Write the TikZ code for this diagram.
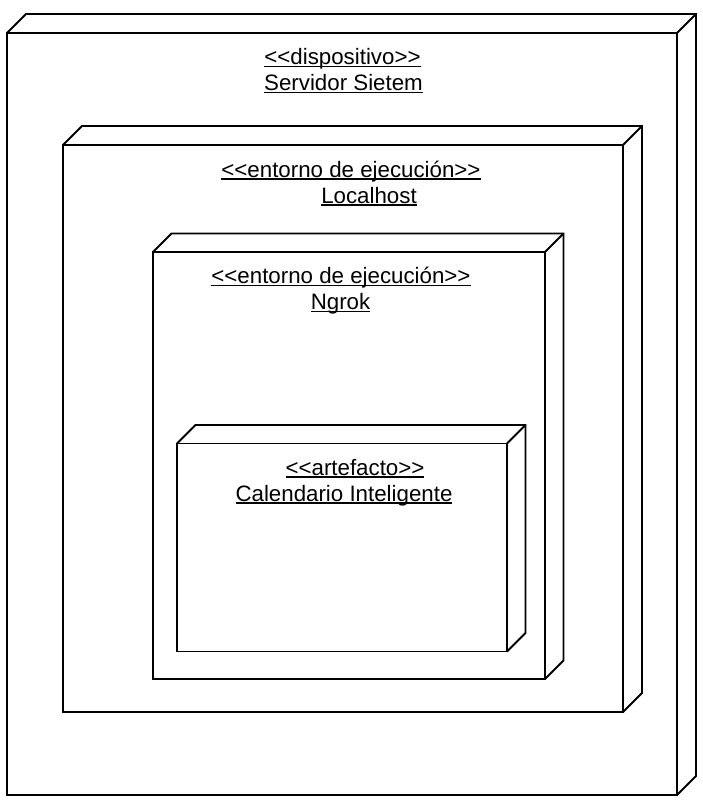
\documentclass[tikz,border=0pt]{standalone}
\usepackage{fontspec}
\setmainfont{Liberation Sans}
\newcommand\ulbox[1]{\leavevmode\setbox0\hbox{#1}\rlap{\copy0}\rule[-2.8pt]{\wd0}{1.5pt}}
\begin{document}
\begin{tikzpicture}[x=1pt,y=-1pt,
  face/.style={draw, line width=1.9pt, fill=white, rectangle, anchor=north west, inner sep=0pt, outer sep=0pt},
  edge3d/.style={line width=1.9pt, line join=miter},
  lbl/.style={anchor=base, inner sep=0pt, font=\fontsize{22.3}{26}\selectfont}]
\useasboundingbox[fill=white] (0,0) rectangle (703,801);
% outer device
\node[face, minimum width=670, minimum height=762] (dev) at (7,33) {};
\draw[edge3d] (dev.north west) -- ++(19,-19) -| ([shift={(19,-19)}]dev.south east) -- (dev.south east);
\draw[edge3d] (dev.north east) -- ++(19,-19);
\node[lbl] (devs) at (342.5,64.5) {\ulbox{<{}<dispositivo>{}>}};
\node[lbl] (devn) at (343.5,90.5) {\ulbox{Servidor Sietem}};
% localhost
\node[face, minimum width=560, minimum height=567] (loc) at (63,145) {};
\draw[edge3d] (loc.north west) -- ++(19,-19) -| ([shift={(19,-19)}]loc.south east) -- (loc.south east);
\draw[edge3d] (loc.north east) -- ++(19,-19);
\node[lbl] (locs) at (351,177) {\ulbox{<{}<entorno de ejecución>{}>}};
\node[lbl] (locn) at (369,203) {\ulbox{Localhost}};
% ngrok
\node[face, minimum width=392, minimum height=427] (ngr) at (153,252) {};
\draw[edge3d] (ngr.north west) -- ++(18.5,-18.5) -| ([shift={(18.5,-18.5)}]ngr.south east) -- (ngr.south east);
\draw[edge3d] (ngr.north east) -- ++(18.5,-18.5);
\node[lbl] (ngrs) at (341,283.5) {\ulbox{<{}<entorno de ejecución>{}>}};
\node[lbl] (ngrn) at (340.5,309.5) {\ulbox{Ngrok}};
% artifact
\node[face, minimum width=330, minimum height=208] (art) at (177,443.5) {};
\draw[edge3d] (art.north west) -- ++(18.5,-18.5) -| ([shift={(18.5,-18.5)}]art.south east) -- (art.south east);
\draw[edge3d] (art.north east) -- ++(18.5,-18.5);
\node[lbl] (arts) at (355,475) {\ulbox{<{}<artefacto>{}>}};
\node[lbl] (artn) at (344,501) {\ulbox{Calendario Inteligente}};
\end{tikzpicture}
\end{document}
